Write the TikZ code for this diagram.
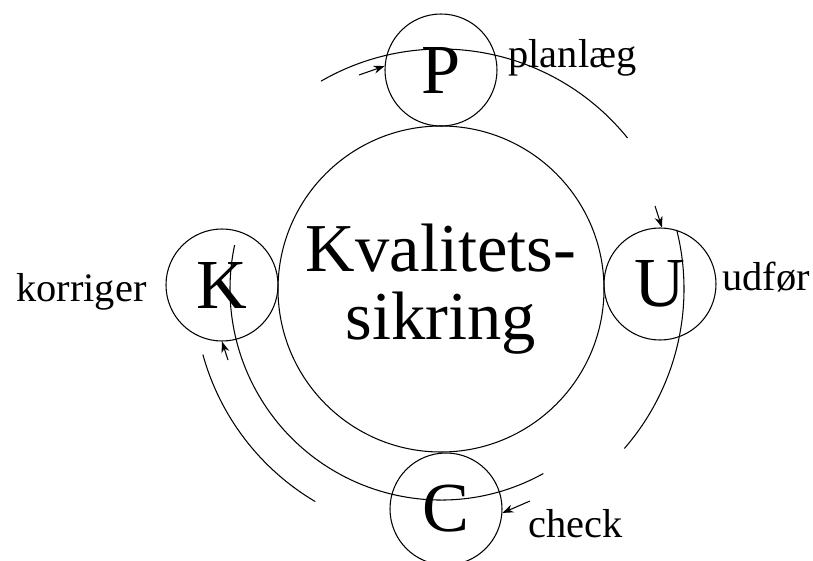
\documentclass[tikz,border=0pt]{standalone}
\usepackage{fontspec}
\setmainfont{Liberation Serif}
\usetikzlibrary{arrows.meta}
\begin{document}
\begin{tikzpicture}[line width=0.6pt,
  letter/.style={draw, circle, minimum size=2.24cm, inner sep=0pt, font=\fontsize{40}{40}\selectfont},
  word/.style={inner sep=0pt, font=\fontsize{23}{23}\selectfont},
  pil/.style={-{Stealth[length=2.2mm, width=1.6mm]}}]
  \useasboundingbox (-8.82,-5.42) rectangle (7.44,5.78);
  \node[draw, circle, minimum size=6.52cm, inner sep=0pt, align=center,
        font=\fontsize{39}{39}\selectfont] (KS) at (0,0) {Kvalitets-\\sikring};
  \node[letter] (P) at (0,4.38) {P};
  \node[letter] (U) at (4.38,0.1) {U};
  \node[letter] (C) at (0.1,-4.4) {C};
  \node[letter] (K) at (-4.38,0.08) {K};
  \node[word, anchor=base west] at (1.34,4.42) {planlæg};
  \node[word, anchor=base west] at (5.62,-0.02) {udfør};
  \node[word, anchor=base west] at (1.74,-4.96) {check};
  \node[word, anchor=base east] at (-5.88,-0.24) {korriger};
  \draw (120:4.8) arc[start angle=120, end angle=39, radius=4.8];
  \draw (14:4.86) arc[start angle=14, end angle=-41, radius=4.86];
  \draw (-61:4.22) arc[start angle=-61, end angle=-192, radius=4.22];
  \draw (-164.6:4.94) arc[start angle=-164.6, end angle=-120.6, radius=4.94];
  \coordinate (pt) at (-1.64,4.28);
  \coordinate (ut) at (4.28,1.66);
  \coordinate (ct) at (1.78,-4.24);
  \coordinate (kt) at (-4.26,-1.42);
  \draw[pil] (pt) -- (P.176);
  \draw[pil] (ut) -- (U.88);
  \draw[pil] (ct) -- (C.-4);
  \draw[pil] (kt) -- (K.-90);
\end{tikzpicture}
\end{document}
